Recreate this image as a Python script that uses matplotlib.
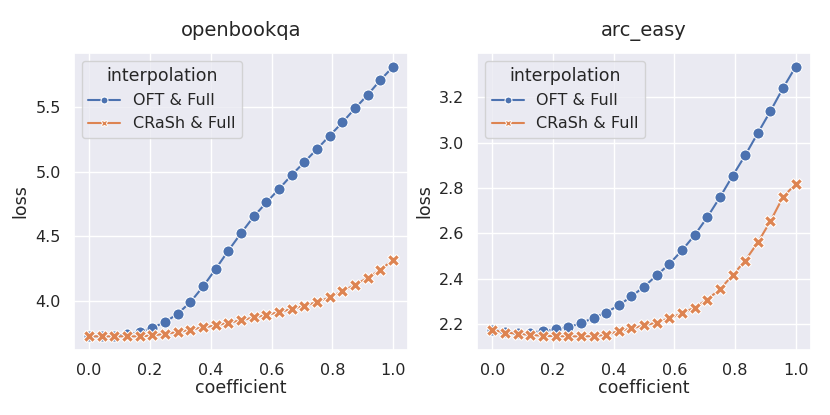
import numpy as np
import pandas as pd
import matplotlib
matplotlib.use("Agg")
import matplotlib.pyplot as plt
import seaborn as sns

coefficients = [i / 24 for i in range(25)]
series_names = ["OFT & Full", "CRaSh & Full"]

openbookqa_oft = [3.731, 3.731, 3.733, 3.746, 3.764, 3.797, 3.841, 3.905, 3.995,
                  4.115, 4.251, 4.392, 4.526, 4.654, 4.762, 4.867, 4.974, 5.074,
                  5.174, 5.277, 5.379, 5.487, 5.592, 5.705, 5.808]
openbookqa_crash = [3.731, 3.731, 3.731, 3.731, 3.731, 3.738, 3.751, 3.764, 3.782,
                    3.800, 3.815, 3.836, 3.854, 3.877, 3.895, 3.918, 3.941, 3.967,
                    3.995, 4.031, 4.079, 4.128, 4.182, 4.244, 4.321]
arc_easy_oft = [2.175, 2.165, 2.160, 2.163, 2.169, 2.177, 2.187, 2.203, 2.228,
                2.251, 2.283, 2.322, 2.365, 2.415, 2.465, 2.525, 2.592, 2.671,
                2.759, 2.853, 2.944, 3.042, 3.139, 3.241, 3.335]
arc_easy_crash = [2.174, 2.163, 2.158, 2.152, 2.149, 2.147, 2.146, 2.146, 2.147,
                  2.153, 2.169, 2.181, 2.194, 2.207, 2.226, 2.247, 2.273, 2.308,
                  2.354, 2.415, 2.480, 2.560, 2.654, 2.761, 2.818]

tasks = ["openbookqa", "arc_easy"]
task_data = {
    "openbookqa": (openbookqa_oft, openbookqa_crash),
    "arc_easy": (arc_easy_oft, arc_easy_crash),
}

sns.set_theme()
plt.rcParams['font.family'] = ['DejaVu Sans']
plt.rcParams.update({
    'xtick.labelsize': 11.5, 'ytick.labelsize': 11.5,
    'axes.labelsize': 12.5, 'axes.titlesize': 14,
    'legend.fontsize': 11.5, 'legend.title_fontsize': 12.5,
})

fig = plt.figure(figsize=(8.3, 4.15), dpi=100)
positions = [[0.089, 0.157, 0.403, 0.715], [0.575, 0.157, 0.402, 0.715]]

for task, pos in zip(tasks, positions):
    ax = fig.add_axes(pos)
    oft, crash = task_data[task]
    df = pd.DataFrame({
        "coefficient": coefficients * 2,
        "loss": list(oft) + list(crash),
        "interpolation": [series_names[0]] * len(oft) + [series_names[1]] * len(crash),
    })
    sns.lineplot(data=df, x="coefficient", y="loss", hue="interpolation",
                 style="interpolation", markers=["o", "X"], dashes=False,
                 markersize=8, ax=ax)
    ax.set_title(task, pad=12)
    ax.set_xticks([0.0, 0.2, 0.4, 0.6, 0.8, 1.0])
    ax.xaxis.labelpad = 1
    leg = ax.legend(title="interpolation", loc="upper left")
    for h in leg.legend_handles:
        h.set_markersize(5)

fig.savefig("out.png", dpi=100)
